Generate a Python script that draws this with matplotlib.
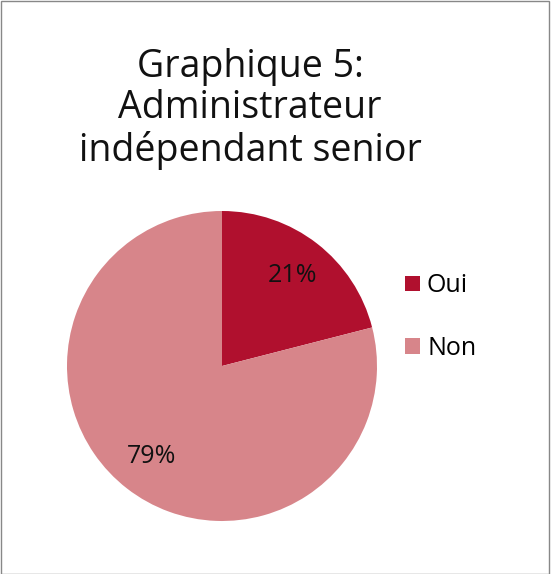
import matplotlib
matplotlib.use("Agg")
import matplotlib.pyplot as plt
import matplotlib.patches as patches

# données du graphique
categories = ["Oui", "Non"]
valeurs = [21, 79]
couleurs = ["#B0102E", "#D7858A"]
titre = "Graphique 5:\nAdministrateur\nindépendant senior"

plt.rcParams['font.family'] = ['Open Sans', 'DejaVu Sans']

fig = plt.figure(figsize=(5.52, 5.74), dpi=100)
ax = fig.add_axes([67 / 552, 1 - 521 / 574, 310 / 552, 310 / 574])

wedges, texts, autotexts = ax.pie(valeurs, colors=couleurs, startangle=90,
                                  counterclock=False, autopct='%1.0f%%',
                                  pctdistance=0.74,
                                  textprops={'fontsize': 18, 'color': '#111111'})
ax.set_xlim(-1, 1)
ax.set_ylim(-1, 1)
ax.set_aspect('equal')

fig.text(250 / 552, 1 - 109 / 574, titre, ha='center', va='center',
         fontsize=27, linespacing=1.13, color='#111111')

fig.legend(wedges, categories, loc='center left',
           bbox_to_anchor=(382 / 552, 1 - 317 / 574), frameon=False,
           fontsize=18, handlelength=0.6, handleheight=0.6,
           handletextpad=0.3, labelspacing=1.5)

# cadre gris autour de la figure
cadre = patches.Rectangle((0.5 / 552, 0), 548.5 / 552, 1 - 1 / 574,
                          transform=fig.transFigure, fill=False,
                          ec='#888888', lw=1)
fig.patches.append(cadre)

fig.savefig("out.png", dpi=100)
